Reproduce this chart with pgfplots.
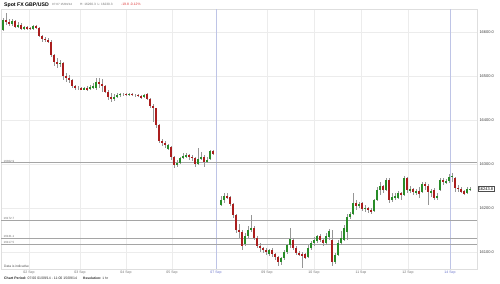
\documentclass[border=0pt]{standalone}
\usepackage{pgfplots}
\usepackage{pgfplotstable}
\pgfplotsset{compat=1.18}
\usepackage{fontspec}
\setmainfont{Liberation Sans}
\newcommand\fs[1]{\fontsize{#1}{#1}\selectfont}
\definecolor{cred}{RGB}{170,30,30}
\definecolor{cgreen}{RGB}{40,140,40}
\definecolor{wick}{RGB}{150,150,150}
\definecolor{gridc}{RGB}{236,236,236}
\definecolor{framec}{RGB}{222,222,222}
\definecolor{levelc}{RGB}{165,165,165}
\definecolor{bluel}{RGB}{190,196,230}
\definecolor{bluet}{RGB}{100,110,200}
\definecolor{txtgray}{RGB}{110,110,110}
\definecolor{chg}{RGB}{220,50,50}

\pgfplotstableread{
x o h l c
3 16605 16632 16602 16627
6 16627 16643 16616 16623
9 16623 16630 16614 16618
12 16618 16630 16614 16625
15 16625 16627 16609 16611
18 16611 16623 16609 16616
21 16616 16620 16605 16607
24 16607 16614 16605 16611
27 16611 16614 16605 16609
30 16609 16611 16605 16607
33 16607 16616 16605 16614
36 16614 16616 16607 16609
39 16609 16611 16589 16591
42 16591 16593 16577 16584
45 16584 16589 16577 16582
48 16582 16586 16575 16577
51 16577 16582 16543 16548
54 16548 16550 16523 16532
57 16532 16541 16518 16527
60 16527 16536 16520 16530
63 16530 16532 16491 16500
66 16500 16507 16486 16495
69 16495 16502 16484 16491
72 16491 16493 16473 16477
75 16477 16480 16468 16473
78 16473 16477 16468 16473
81 16473 16475 16468 16470
84 16470 16475 16468 16473
87 16473 16477 16466 16470
90 16470 16480 16468 16475
93 16475 16484 16470 16477
96 16473 16495 16468 16486
99 16486 16495 16473 16482
102 16482 16493 16464 16477
105 16477 16480 16461 16464
108 16464 16468 16445 16452
111 16452 16461 16441 16448
114 16448 16459 16443 16452
117 16452 16461 16450 16457
120 16457 16461 16452 16459
123 16459 16461 16455 16459
126 16459 16461 16455 16457
129 16457 16461 16455 16459
132 16459 16461 16455 16457
135 16457 16459 16452 16457
138 16457 16459 16452 16455
141 16455 16457 16448 16452
144 16452 16459 16450 16457
147 16459 16461 16445 16448
150 16448 16450 16427 16432
153 16432 16436 16396 16427
156 16427 16427 16382 16389
159 16389 16391 16348 16353
162 16353 16357 16341 16348
165 16348 16353 16337 16343
168 16334 16345 16332 16343
171 16339 16341 16309 16316
174 16316 16318 16291 16298
177 16298 16309 16293 16302
180 16302 16316 16300 16314
183 16314 16325 16311 16318
186 16318 16325 16314 16320
189 16320 16323 16309 16316
192 16316 16320 16307 16314
195 16314 16316 16293 16300
198 16300 16336 16298 16311
201 16311 16327 16309 16316
204 16316 16320 16293 16305
207 16305 16316 16302 16309
210 16311 16332 16309 16330
213 16330 16332 16320 16323
221 16207 16227 16205 16218
224 16218 16234 16211 16227
227 16227 16234 16220 16225
230 16225 16227 16205 16209
233 16209 16211 16177 16184
236 16184 16186 16143 16150
239 16150 16164 16132 16145
242 16145 16150 16105 16114
245 16118 16143 16114 16136
248 16136 16159 16132 16150
251 16150 16184 16145 16155
254 16155 16159 16127 16132
257 16132 16136 16109 16114
260 16114 16120 16100 16109
263 16109 16111 16098 16105
266 16105 16109 16093 16100
269 16095 16107 16091 16105
272 16105 16109 16089 16095
275 16095 16098 16082 16089
278 16089 16091 16068 16077
281 16077 16089 16070 16086
284 16086 16105 16082 16100
287 16100 16118 16095 16116
290 16116 16155 16109 16130
293 16127 16132 16105 16109
296 16109 16114 16093 16098
299 16098 16102 16091 16095
302 16095 16100 16064 16091
305 16095 16098 16084 16086
308 16089 16116 16086 16109
311 16109 16125 16105 16120
314 16120 16134 16114 16127
317 16125 16139 16120 16136
320 16136 16141 16123 16127
323 16127 16130 16114 16120
326 16120 16143 16116 16136
329 16134 16152 16127 16148
332 16127 16150 16068 16077
335 16077 16098 16073 16093
338 16093 16127 16091 16120
341 16120 16148 16116 16132
344 16127 16161 16125 16155
347 16145 16186 16127 16180
350 16180 16191 16175 16186
353 16186 16234 16184 16211
356 16211 16218 16195 16205
359 16205 16214 16200 16209
362 16211 16214 16193 16198
365 16198 16207 16191 16200
368 16200 16202 16189 16195
371 16195 16200 16186 16193
374 16193 16220 16191 16218
377 16218 16248 16216 16241
380 16241 16259 16230 16250
383 16250 16252 16234 16241
386 16241 16268 16239 16264
389 16264 16268 16211 16218
392 16218 16234 16214 16225
395 16225 16234 16218 16227
398 16223 16239 16220 16234
401 16234 16236 16218 16230
404 16230 16273 16227 16268
407 16268 16271 16234 16241
410 16241 16250 16234 16243
413 16243 16246 16230 16236
416 16236 16243 16230 16239
419 16239 16248 16223 16232
422 16236 16259 16234 16255
425 16255 16259 16241 16250
428 16250 16255 16207 16236
431 16236 16243 16225 16239
434 16241 16246 16218 16223
437 16223 16234 16218 16227
440 16241 16268 16239 16264
443 16264 16268 16252 16259
446 16259 16266 16255 16261
449 16261 16277 16257 16271
452 16271 16280 16259 16273
455 16268 16271 16236 16246
458 16246 16252 16236 16243
461 16243 16248 16234 16236
464 16239 16241 16230 16232
467 16234 16248 16232 16243
470 16241 16248 16239 16244
}\candles

\begin{document}
\begin{tikzpicture}
\useasboundingbox (0,0) rectangle (500bp,284bp);
\begin{axis}[
  at={(1bp,15bp)}, anchor=south west,
  width=476bp, height=260bp, scale only axis,
  xmin=1, xmax=477, ymin=16061.4, ymax=16652.3,
  scaled x ticks=false, scaled y ticks=false,
  clip=false,
  axis line style={draw=framec, line width=0.6bp},
  major tick length=0pt,
  xtick={29,80,126,172,267,314,361,408},
  xticklabels={02 Sep,03 Sep,04 Sep,05 Sep,09 Sep,10 Sep,11 Sep,12 Sep},
  extra x ticks={216,450},
  extra x tick labels={07 Sep,14 Sep},
  extra x tick style={grid=major, major grid style={draw=bluel, line width=0.7bp}, xticklabel style={text=bluet}},
  ytick={16100,16200,16300,16400,16500,16600},
  yticklabels={16100.0,16200.0,16300.0,16400.0,16500.0,16600.0},
  yticklabel pos=right,
  grid=major,
  major grid style={draw=gridc, line width=0.6bp},
  xticklabel style={font=\fs{3.5}, text=txtgray, anchor=north, inner sep=0pt, yshift=-1.4bp},
  yticklabel style={font=\fs{4}, text=black!75, anchor=west, inner sep=0pt, xshift=2.3bp},
]
% support / resistance levels
\addplot[levelc, line width=0.9bp, forget plot] coordinates {(1,16302.9) (477,16302.9)};
\addplot[levelc, line width=0.9bp, forget plot] coordinates {(1,16172.7) (477,16172.7)};
\addplot[levelc, line width=0.9bp, forget plot] coordinates {(1,16131.1) (477,16131.1)};
\addplot[levelc, line width=0.9bp, forget plot] coordinates {(1,16117.5) (477,16117.5)};
% wicks
\addplot[draw=none, mark=none, forget plot,
  error bars/.cd, y dir=both, y explicit, error mark=none,
  error bar style={draw=wick, line width=0.6bp}]
  table[x=x, y expr={(\thisrow{h}+\thisrow{l})/2}, y error expr={(\thisrow{h}-\thisrow{l})/2}] {\candles};
% down bodies
\addplot[draw=none, mark=none, forget plot,
  error bars/.cd, y dir=both, y explicit, error mark=none,
  error bar style={draw=cred, line width=2bp, line cap=butt}]
  table[x=x, y expr={(\thisrow{o}+\thisrow{c})/2}, y error expr={max(\thisrow{o}-\thisrow{c},0)/2}] {\candles};
% up bodies
\addplot[draw=none, mark=none, forget plot,
  error bars/.cd, y dir=both, y explicit, error mark=none,
  error bar style={draw=cgreen, line width=2bp, line cap=butt}]
  table[x=x, y expr={(\thisrow{o}+\thisrow{c})/2}, y error expr={max(\thisrow{c}-\thisrow{o},0)/2}] {\candles};
% level labels
\node[anchor=south west, inner sep=0.4bp, font=\fs{3}, text=txtgray] at (axis cs:3,16302.9) {16302.9};
\node[anchor=south west, inner sep=0.4bp, font=\fs{3}, text=txtgray] at (axis cs:3,16172.7) {16172.7};
\node[anchor=south west, inner sep=0.4bp, font=\fs{3}, text=txtgray] at (axis cs:3,16131.1) {16131.1};
\node[anchor=south west, inner sep=0.4bp, font=\fs{3}, text=txtgray] at (axis cs:3,16117.5) {16117.5};
% current price box
\node[anchor=west, draw=black!70, fill=white, line width=0.5bp, inner sep=0.9bp, font=\fs{4}] at (axis cs:477.6,16243.8) {16243.8};
\end{axis}
% title
\node[anchor=west, inner sep=0pt, font=\bfseries\fs{5.2}] at (4bp,279.3bp) {Spot FX GBP/USD};
\node[anchor=west, inner sep=0pt, font=\fs{3}, text=txtgray] at (52bp,279.3bp) {07:07 15/09/14};
\node[anchor=west, inner sep=0pt, font=\fs{3.2}, text=txtgray] at (80bp,279.3bp) {H: 16260.3 \ L: 16230.3};
\node[anchor=west, inner sep=0pt, font=\fs{3.4}, text=chg] at (121bp,279.3bp) {-19.8 -0.12\%};
% footer
\node[anchor=west, inner sep=0pt, font=\fs{3.3}, text=black!70] at (4bp,17.3bp) {Data is indicative};
\node[anchor=west, inner sep=0pt, font=\fs{3.5}, text=black!85] at (4bp,5.3bp) {\textbf{Chart Period:} 07:00 01/09/14 - 11:00 15/09/14};
\node[anchor=west, inner sep=0pt, font=\fs{3.3}, text=black!85] at (83bp,5.3bp) {\textbf{Resolution:} 1 hr};
\end{tikzpicture}
\end{document}
